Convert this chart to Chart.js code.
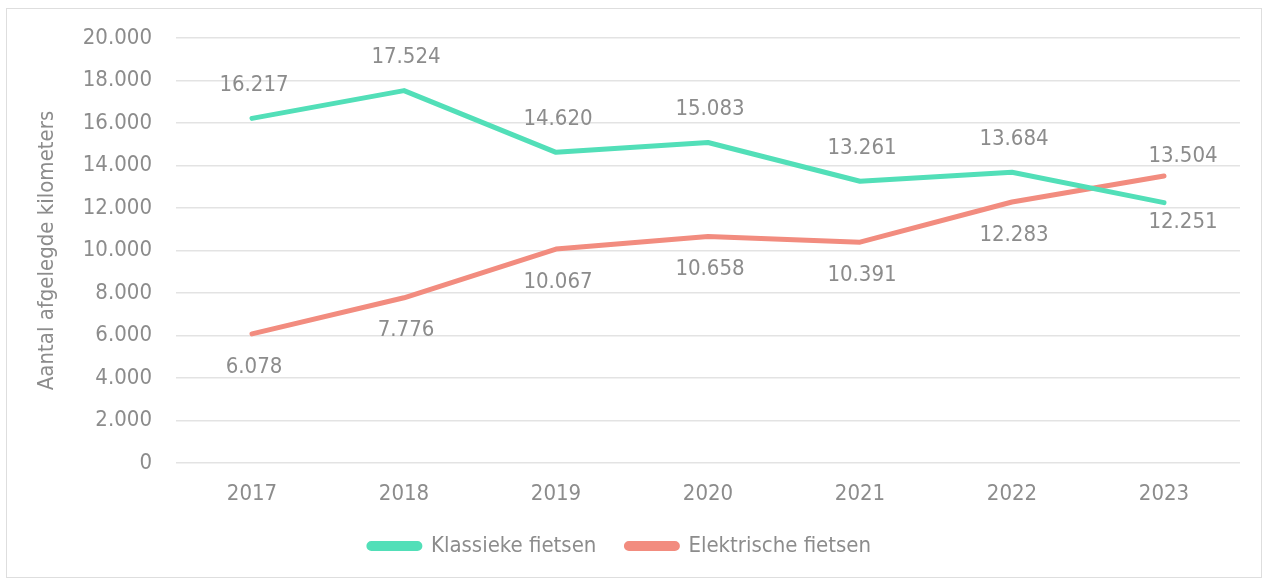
<!DOCTYPE html>
<html>
<head>
<meta charset="utf-8">
<script src="https://cdn.jsdelivr.net/npm/chart.js@4.4.1/dist/chart.umd.min.js"></script>
<style>
  body { margin: 0; background: #fff; }
  .wrap { position: relative; width: 1265px; height: 580px; }
  .frame { position: absolute; left: 6px; top: 8px; width: 1256px; height: 570px; border: 1px solid #dedede; box-sizing: border-box; }
  canvas { position: absolute; left: 0; top: 0; }
</style>
</head>
<body>
<div class="wrap">
  <div class="frame"></div>
  <canvas id="chart" width="1265" height="580"></canvas>
</div>
<script>
const years = ["2017", "2018", "2019", "2020", "2021", "2022", "2023"];
const klassiek = [16217, 17524, 14620, 15083, 13261, 13684, 12251];
const elektrisch = [6078, 7776, 10067, 10658, 10391, 12283, 13504];
const yTicks = [0, 2000, 4000, 6000, 8000, 10000, 12000, 14000, 16000, 18000, 20000];

const grey = "#8c8c8c";
const font = "'DejaVu Sans Condensed', 'DejaVu Sans', sans-serif";
const fsize = 22;

const fmt = (v) => v.toLocaleString("nl-NL");

// value labels: higher series above the point, lower one below
const valueLabels = {
  id: "valueLabels",
  afterDatasetsDraw(chart) {
    const ctx = chart.ctx;
    const sets = chart.data.datasets;
    ctx.save();
    ctx.font = fsize + "px " + font;
    ctx.fillStyle = grey;
    ctx.textAlign = "center";
    ctx.textBaseline = "middle";
    sets.forEach((ds, di) => {
      const meta = chart.getDatasetMeta(di);
      meta.data.forEach((pt, i) => {
        const other = sets[1 - di].data[i];
        const above = ds.data[i] >= other;
        const last = i === ds.data.length - 1;
        const dy = last ? 20 : 33;
        const dx = last ? 19 : 2;
        ctx.fillText(fmt(ds.data[i]), pt.x + dx, above ? pt.y - dy : pt.y + dy);
      });
    });
    ctx.restore();
  },
};

new Chart(document.getElementById("chart").getContext("2d"), {
  type: "line",
  data: {
    labels: years,
    datasets: [
      {
        label: "Klassieke fietsen",
        data: klassiek,
        borderColor: "#52dfb8",
        backgroundColor: "#52dfb8",
        borderWidth: 5,
      },
      {
        label: "Elektrische fietsen",
        data: elektrisch,
        borderColor: "#f28c7f",
        backgroundColor: "#f28c7f",
        borderWidth: 5,
      },
    ],
  },
  options: {
    responsive: false,
    animation: false,
    layout: { padding: { left: 0, right: 25, top: 38, bottom: 13 } },
    elements: {
      point: { radius: 0, hoverRadius: 0 },
      line: { tension: 0, borderCapStyle: "round", borderJoinStyle: "round" },
    },
    scales: {
      x: {
        offset: true,
        grid: { display: false },
        border: { display: false },
        ticks: { color: grey, font: { family: font, size: fsize }, padding: 10 },
        afterFit: (s) => { s.height = 42; },
      },
      y: {
        min: 0,
        max: 20000,
        afterBuildTicks: (s) => { s.ticks = yTicks.map((v) => ({ value: v })); },
        grid: { color: "#e3e3e3", lineWidth: 1.5, drawTicks: false },
        border: { display: false },
        ticks: {
          color: grey,
          font: { family: font, size: fsize },
          padding: 24,
          callback: (v) => fmt(v),
        },
        title: {
          display: true,
          text: "Aantal afgelegde kilometers",
          color: grey,
          font: { family: font, size: fsize, lineHeight: "94px" },
          padding: 0,
        },
        afterFit: (s) => { s.width = 176; },
      },
    },
    plugins: {
      tooltip: { enabled: false },
      legend: {
        position: "bottom",
        labels: {
          color: grey,
          font: { family: font, size: fsize },
          boxWidth: 51,
          boxHeight: 5,
          useBorderRadius: true,
          borderRadius: 2.5,
          padding: 30,
        },
      },
    },
  },
  plugins: [valueLabels],
});
</script>
</body>
</html>
